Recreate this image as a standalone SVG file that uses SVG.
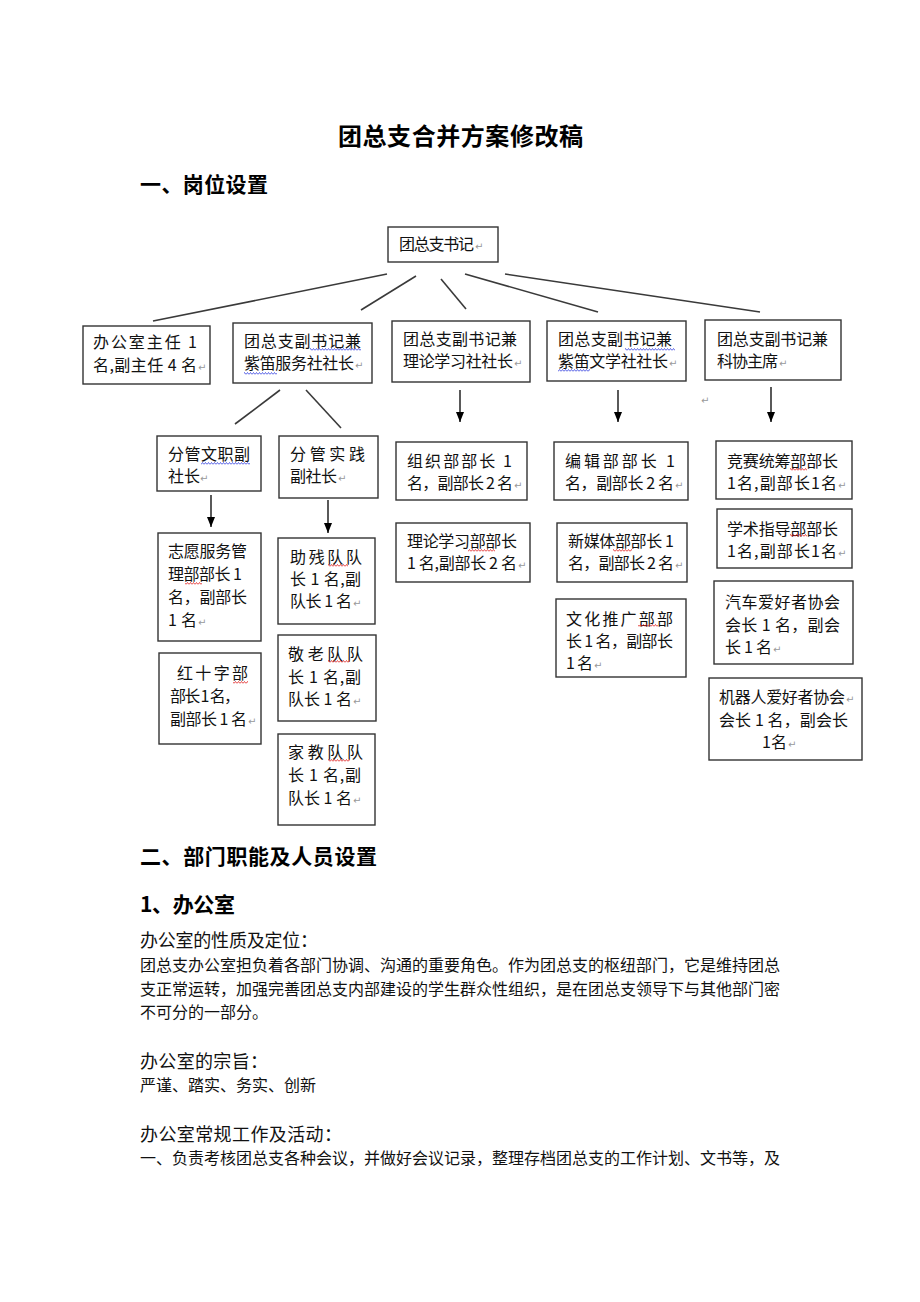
<svg xmlns="http://www.w3.org/2000/svg" width="920" height="1302" viewBox="0 0 920 1302">
<style>
.bx{fill:#fff;stroke:#333;stroke-width:1.4}
.t{font-family:"Noto Sans CJK SC","Liberation Sans",sans-serif;font-size:16px;fill:#111}
.h{font-family:"Noto Sans CJK SC","Liberation Sans",sans-serif;font-weight:bold;fill:#000}
.p{font-family:"Noto Sans CJK SC","Liberation Serif",serif;fill:#111}
.r{font-family:"DejaVu Sans",sans-serif;font-size:10px;fill:#999}
.ln{stroke:#3a3a3a;stroke-width:1.6;fill:none}
.ar{stroke:#000;stroke-width:1.3;fill:none;marker-end:url(#ah)}
</style>
<defs>
<marker id="ah" markerUnits="userSpaceOnUse" markerWidth="10" markerHeight="10" refX="5" refY="10" orient="0" viewBox="0 0 10 10"><path d="M1,0 L9,0 L5,10 z" fill="#000"/></marker>
<pattern id="wb" width="3" height="3" patternUnits="userSpaceOnUse"><path d="M0,2.5 L1.5,0.5 L3,2.5" fill="none" stroke="#3340e0" stroke-width="0.8"/></pattern>
<pattern id="wr" width="3" height="3" patternUnits="userSpaceOnUse"><path d="M0,2.5 L1.5,0.5 L3,2.5" fill="none" stroke="#e02020" stroke-width="0.8"/></pattern>
</defs>
<rect width="920" height="1302" fill="#fff"/>

<g id="headings">
<text class="h" x="338" y="145" font-size="24" textLength="245" lengthAdjust="spacing">团总支合并方案修改稿</text>
<text class="h" x="140" y="192" font-size="21" textLength="128" lengthAdjust="spacing">一、岗位设置</text>
<text class="h" x="140" y="864" font-size="21" textLength="237" lengthAdjust="spacing">二、部门职能及人员设置</text>
<text class="h" x="140" y="912" font-size="21" textLength="95" lengthAdjust="spacing">1、办公室</text>
</g>

<g id="connectors">
<line class="ln" x1="387" y1="274" x2="153" y2="321"/>
<line class="ln" x1="416" y1="276" x2="361" y2="310"/>
<line class="ln" x1="441" y1="279" x2="466" y2="309"/>
<line class="ln" x1="465" y1="274" x2="598" y2="312"/>
<line class="ln" x1="505" y1="274" x2="760" y2="312"/>
<line class="ln" x1="280" y1="390" x2="235" y2="424"/>
<line class="ln" x1="306" y1="390" x2="341" y2="428"/>
<line class="ar" x1="211" y1="495" x2="211" y2="527"/>
<line class="ar" x1="328" y1="500" x2="328" y2="533"/>
<line class="ar" x1="460" y1="390" x2="460" y2="422"/>
<line class="ar" x1="618" y1="390" x2="618" y2="422"/>
<line class="ar" x1="771" y1="387" x2="771" y2="422"/>
</g>

<g id="n-secretary">
<rect class="bx" x="388" y="227" width="110" height="35"/>
<text class="t" x="399" y="250" textLength="75" lengthAdjust="spacing">团总支书记</text><text class="r" x="475" y="250">↵</text>
</g>

<g id="n-office">
<rect class="bx" x="83" y="326" width="127" height="58"/>
<text class="t" x="93" y="348" textLength="104" lengthAdjust="spacing">办公室主任  1</text>
<text class="t" x="93" y="371" textLength="104" lengthAdjust="spacing">名,副主任 4 名</text><text class="r" x="198" y="371">↵</text>
</g>

<g id="n-service">
<rect class="bx" x="233" y="323" width="139" height="60"/>
<text class="t" x="244" y="347" textLength="117" lengthAdjust="spacing">团总支副书记兼</text>
<text class="t" x="244" y="369" textLength="110" lengthAdjust="spacing">紫笛服务社社长</text><text class="r" x="355" y="369">↵</text>
<rect x="310" y="348" width="51" height="3" fill="url(#wb)"/>
<rect x="244" y="372" width="33" height="3" fill="url(#wb)"/>
</g>

<g id="n-theory">
<rect class="bx" x="392" y="321" width="138" height="61"/>
<text class="t" x="403" y="345" textLength="114" lengthAdjust="spacing">团总支副书记兼</text>
<text class="t" x="403" y="367" textLength="110" lengthAdjust="spacing">理论学习社社长</text><text class="r" x="514" y="367">↵</text>
</g>

<g id="n-literature">
<rect class="bx" x="547" y="321" width="139" height="60"/>
<text class="t" x="558" y="345" textLength="114" lengthAdjust="spacing">团总支副书记兼</text>
<text class="t" x="558" y="367" textLength="110" lengthAdjust="spacing">紫笛文学社社长</text><text class="r" x="669" y="367">↵</text>
<rect x="625" y="348" width="50" height="3" fill="url(#wb)"/>
<rect x="558" y="369" width="32" height="3" fill="url(#wb)"/>
</g>

<g id="n-science">
<rect class="bx" x="705" y="320" width="136" height="60"/>
<text class="t" x="717" y="345" textLength="111" lengthAdjust="spacing">团总支副书记兼</text>
<text class="t" x="717" y="367" textLength="61" lengthAdjust="spacing">科协主席</text><text class="r" x="779" y="367">↵</text>
</g>

<text class="r" x="701" y="404">↵</text>

<g id="n-culture-vp">
<rect class="bx" x="157" y="436" width="104" height="55"/>
<text class="t" x="168" y="460" textLength="82" lengthAdjust="spacing">分管文职副</text>
<text class="t" x="168" y="482" textLength="32" lengthAdjust="spacing">社长</text><text class="r" x="200" y="482">↵</text>
<rect x="201" y="462" width="49" height="3" fill="url(#wb)"/>
</g>

<g id="n-practice-vp">
<rect class="bx" x="279" y="436" width="99" height="62"/>
<text class="t" x="290" y="460" textLength="75" lengthAdjust="spacing">分管实践</text>
<text class="t" x="290" y="482" textLength="47" lengthAdjust="spacing">副社长</text><text class="r" x="338" y="482">↵</text>
</g>

<g id="n-volunteer">
<rect class="bx" x="158" y="533" width="103" height="108"/>
<text class="t" x="168" y="557" textLength="79" lengthAdjust="spacing">志愿服务管</text>
<text class="t" x="168" y="580" textLength="74" lengthAdjust="spacing">理部部长 1</text>
<text class="t" x="168" y="603" textLength="79" lengthAdjust="spacing">名，副部长</text>
<text class="t" x="168" y="626" textLength="29" lengthAdjust="spacing">1 名</text><text class="r" x="198" y="626">↵</text>
<rect x="185" y="582" width="17" height="3" fill="url(#wr)"/>
</g>

<g id="n-redcross">
<rect class="bx" x="159" y="653" width="102" height="91"/>
<text class="t" x="177" y="679" textLength="71" lengthAdjust="spacing">红十字部</text>
<text class="t" x="170" y="702" textLength="70" lengthAdjust="spacing">部长 1 名，</text>
<text class="t" x="170" y="725" textLength="77" lengthAdjust="spacing">副部长 1 名</text><text class="r" x="248" y="725">↵</text>
<rect x="233" y="681" width="15" height="3" fill="url(#wr)"/>
</g>

<g id="n-disabled">
<rect class="bx" x="278" y="538" width="97" height="86"/>
<text class="t" x="290" y="563" textLength="72" lengthAdjust="spacing">助残队队</text>
<text class="t" x="290" y="585" textLength="71" lengthAdjust="spacing">长 1 名,副</text>
<text class="t" x="290" y="607" textLength="62" lengthAdjust="spacing">队长 1 名</text><text class="r" x="353" y="607">↵</text>
<rect x="328" y="564" width="20" height="3" fill="url(#wr)"/>
</g>

<g id="n-elderly">
<rect class="bx" x="278" y="635" width="98" height="86"/>
<text class="t" x="288" y="660" textLength="75" lengthAdjust="spacing">敬老队队</text>
<text class="t" x="288" y="683" textLength="73" lengthAdjust="spacing">长 1 名,副</text>
<text class="t" x="288" y="705" textLength="64" lengthAdjust="spacing">队长 1 名</text><text class="r" x="353" y="705">↵</text>
<rect x="328" y="660" width="22" height="3" fill="url(#wr)"/>
</g>

<g id="n-tutor">
<rect class="bx" x="278" y="734" width="97" height="91"/>
<text class="t" x="288" y="758" textLength="75" lengthAdjust="spacing">家教队队</text>
<text class="t" x="288" y="781" textLength="73" lengthAdjust="spacing">长 1 名,副</text>
<text class="t" x="288" y="804" textLength="64" lengthAdjust="spacing">队长 1 名</text><text class="r" x="353" y="804">↵</text>
<rect x="328" y="759" width="22" height="3" fill="url(#wr)"/>
</g>

<g id="n-organization">
<rect class="bx" x="396" y="442" width="131" height="58"/>
<text class="t" x="407" y="467" textLength="105" lengthAdjust="spacing">组织部部长  1</text>
<text class="t" x="407" y="489" textLength="106" lengthAdjust="spacing">名，副部长 2 名</text><text class="r" x="514" y="489">↵</text>
</g>

<g id="n-theory-dept">
<rect class="bx" x="396" y="523" width="134" height="59"/>
<text class="t" x="407" y="547" textLength="110" lengthAdjust="spacing">理论学习部部长</text>
<text class="t" x="407" y="569" textLength="110" lengthAdjust="spacing">1 名,副部长 2 名</text><text class="r" x="518" y="569">↵</text>
<rect x="468" y="549" width="27" height="3" fill="url(#wr)"/>
</g>

<g id="n-editing">
<rect class="bx" x="554" y="442" width="134" height="58"/>
<text class="t" x="565" y="467" textLength="110" lengthAdjust="spacing">编辑部部长  1</text>
<text class="t" x="565" y="489" textLength="109" lengthAdjust="spacing">名，副部长 2 名</text><text class="r" x="675" y="489">↵</text>
</g>

<g id="n-newmedia">
<rect class="bx" x="557" y="523" width="130" height="59"/>
<text class="t" x="568" y="547" textLength="106" lengthAdjust="spacing">新媒体部部长 1</text>
<text class="t" x="568" y="569" textLength="106" lengthAdjust="spacing">名，副部长 2 名</text><text class="r" x="675" y="569">↵</text>
<rect x="613" y="549" width="19" height="3" fill="url(#wr)"/>
</g>

<g id="n-promotion">
<rect class="bx" x="556" y="599" width="130" height="78"/>
<text class="t" x="566" y="625" textLength="107" lengthAdjust="spacing">文化推广部部</text>
<text class="t" x="566" y="647" textLength="107" lengthAdjust="spacing">长 1 名，副部长</text>
<text class="t" x="566" y="669" textLength="27" lengthAdjust="spacing">1 名</text><text class="r" x="594" y="669">↵</text>
<rect x="638" y="624" width="20" height="3" fill="url(#wr)"/>
</g>

<g id="n-contest">
<rect class="bx" x="716" y="441" width="136" height="58"/>
<text class="t" x="727" y="467" textLength="111" lengthAdjust="spacing">竞赛统筹部部长</text>
<text class="t" x="727" y="489" textLength="110" lengthAdjust="spacing">1名,副部长1名</text><text class="r" x="838" y="489">↵</text>
<rect x="790" y="468" width="17" height="3" fill="url(#wr)"/>
</g>

<g id="n-academic">
<rect class="bx" x="717" y="509" width="135" height="59"/>
<text class="t" x="727" y="535" textLength="111" lengthAdjust="spacing">学术指导部部长</text>
<text class="t" x="727" y="557" textLength="110" lengthAdjust="spacing">1名,副部长1名</text><text class="r" x="838" y="557">↵</text>
<rect x="790" y="534" width="17" height="3" fill="url(#wr)"/>
</g>

<g id="n-car">
<rect class="bx" x="714" y="581" width="139" height="83"/>
<text class="t" x="725" y="608" textLength="115" lengthAdjust="spacing">汽车爱好者协会</text>
<text class="t" x="725" y="631" textLength="115" lengthAdjust="spacing">会长 1 名，副会</text>
<text class="t" x="725" y="653" textLength="47" lengthAdjust="spacing">长 1 名</text><text class="r" x="773" y="653">↵</text>
</g>

<g id="n-robot">
<rect class="bx" x="709" y="678" width="153" height="82"/>
<text class="t" x="719" y="703" textLength="126" lengthAdjust="spacing">机器人爱好者协会</text><text class="r" x="846" y="703">↵</text>
<text class="t" x="719" y="726" textLength="129" lengthAdjust="spacing">会长 1 名，副会长</text>
<text class="t" x="762" y="748" textLength="25" lengthAdjust="spacing">1 名</text><text class="r" x="788" y="748">↵</text>
</g>

<g id="body-text">
<text class="p" x="140" y="947" font-size="18" textLength="178" lengthAdjust="spacing">办公室的性质及定位：</text>
<text class="p" x="140" y="971" font-size="16" textLength="640" lengthAdjust="spacing">团总支办公室担负着各部门协调、沟通的重要角色。作为团总支的枢纽部门，它是维持团总</text>
<text class="p" x="140" y="995" font-size="16" textLength="640" lengthAdjust="spacing">支正常运转，加强完善团总支内部建设的学生群众性组织，是在团总支领导下与其他部门密</text>
<text class="p" x="140" y="1018" font-size="16" textLength="128" lengthAdjust="spacing">不可分的一部分。</text>
<text class="p" x="140" y="1068" font-size="18" textLength="128" lengthAdjust="spacing">办公室的宗旨：</text>
<text class="p" x="140" y="1091" font-size="16" textLength="176" lengthAdjust="spacing">严谨、踏实、务实、创新</text>
<text class="p" x="140" y="1141" font-size="18" textLength="202" lengthAdjust="spacing">办公室常规工作及活动：</text>
<text class="p" x="140" y="1164" font-size="16" textLength="640" lengthAdjust="spacing">一、负责考核团总支各种会议，并做好会议记录，整理存档团总支的工作计划、文书等，及</text>
</g>
</svg>
